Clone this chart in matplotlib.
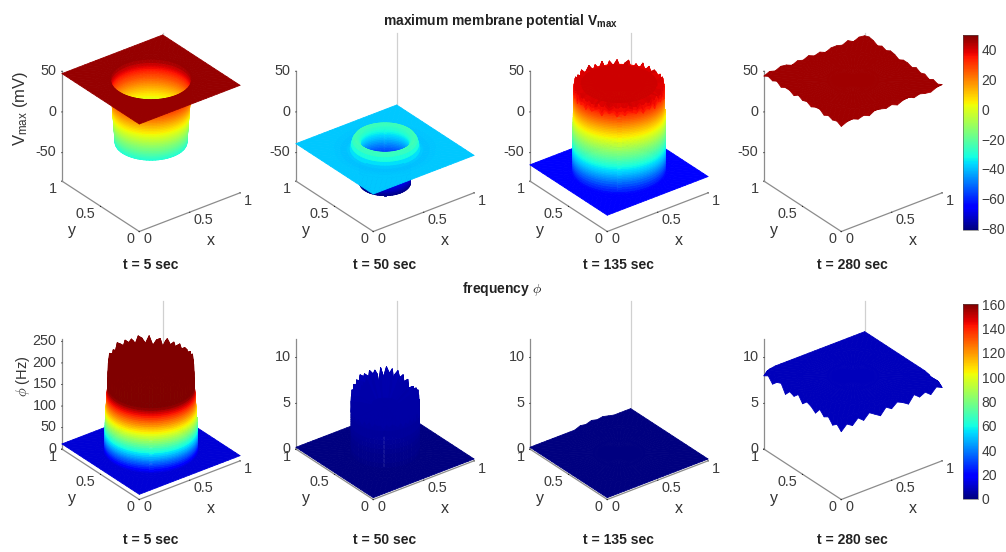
import numpy as np
import matplotlib
matplotlib.use("Agg")
from matplotlib import pyplot as plt
from matplotlib import cm
from matplotlib.colors import Normalize

plt.rcParams["font.family"] = ["Liberation Sans", "DejaVu Sans"]
plt.rcParams["mathtext.fontset"] = "custom"
plt.rcParams["mathtext.rm"] = "Liberation Sans"
plt.rcParams["mathtext.bf"] = "Liberation Sans:bold"
plt.rcParams["mathtext.it"] = "Liberation Sans:italic"

titles = ["t = 5 sec", "t = 50 sec", "t = 135 sec", "t = 280 sec"]
v_ticks = [-50, 0, 50]
phi_ticks_first = [0, 50, 100, 150, 200, 250]
phi_ticks = [0, 5, 10]
v_cbar_ticks = [-80, -60, -40, -20, 0, 20, 40]
phi_cbar_ticks = [0, 20, 40, 60, 80, 100, 120, 140, 160]

# rings, centre to outside: radius and height
v05_r = [0, .1, .2, .283, .284, .285, .286, .287, .288, .289, .290, .291, .292, .293, .294, .295, .296, .297,
         .298, .299, .300, .301, .302, .303, .304, .305, .306, .307, .308, .309, .310, .311, .312, .313,
         .314, .315, .316, .317, .318, .319, .32, .33, .36, .40, .44]
v05_z = [-30, -30, -30, -30, -28, -26, -24, -22, -20, -18, -16, -14, -12, -10, -8, -6, -4, -2,
         0, 2, 4, 6, 8, 10, 12, 14, 16, 18, 20, 22, 24, 26, 28, 30,
         32, 34, 36, 38, 40, 43, 47, 47, 47, 47, 47]
v50_r = [0, .1, .19, .2, .2, .2, .2, .2, .2, .2, .2, .2, .2, .2, .2, .2, .2, .2, .2, .2,
         .2, .2, .2, .2, .2, .2, .2, .2, .2, .2, .205, .21, .225, .24, .255, .265, .275, .30, .35, .40, .44]
v50_z = [-80, -80, -80, -80, -78, -76, -74, -72, -70, -68, -66, -64, -62, -60, -58, -56, -54, -52, -50, -48,
         -46, -44, -42, -40, -38, -36, -34, -32, -30, -29, -28, -27, -25, -25, -28, -33, -38, -40, -40, -39, -39]
v135_r = [0, .1, .2, .3, .35, .354, .354, .354, .354, .354, .355, .355, .355, .356, .356, .356, .357, .357, .357, .358, .358, .358, .359,
          .359, .359, .360, .360, .360, .361, .361, .361, .362, .362, .362, .363, .363, .363, .364, .364, .364,
          .365, .365, .365, .365, .366, .366, .366, .366, .366, .366, .366, .366, .366, .366, .366, .366, .366,
          .37, .40, .44]
v135_z = [41, 41, 41, 41, 46, 44, 42, 40, 38, 36, 34, 32, 30, 28, 26, 24, 22, 20, 18, 16, 14, 12, 10,
          8, 6, 4, 2, 0, -2, -4, -6, -8, -10, -12, -14, -16, -18, -20, -22, -24,
          -26, -28, -30, -32, -34, -36, -38, -40, -42, -44, -46, -48, -50, -53, -56, -59, -62,
          -65, -65, -65]
v280_r = [0, .2, .4, .44]
v280_z = [46, 46, 46, 46]

f05_r = [0, .1, .2, .3, .335, .336, .338, .340, .342, .343, .344, .345, .346, .347, .348, .349, .350, .351, .352, .353,
         .354, .355, .356, .357, .358, .358, .359, .359, .360, .360, .361, .361, .362, .362, .363, .363, .364, .364,
         .365, .365, .366, .366, .366, .366, .366, .37, .40, .44]
f05_z = [215, 215, 215, 215, 215, 205, 190, 170, 160, 154, 150, 146, 142, 138, 134, 130, 126, 122, 118, 114,
         110, 106, 102, 98, 94, 90, 86, 82, 78, 74, 70, 66, 62, 58, 54, 50, 46, 43,
         40, 37, 34, 30, 26, 22, 17, 12, 12, 12]
f50_r = [0, .1, .2, .265, .267, .267, .267, .267, .267, .267, .267, .267, .267, .267, .27, .32, .38, .44]
f50_z = [5.5, 5.5, 5.5, 5.5, 5, 4.5, 4, 3.5, 3, 2.5, 2, 1.5, 1, .5, .2, .2, .2, .2]
f135_r = [0, .2, .4, .44]
f135_z = [.2, .2, .2, .2]
f280_r = [0, .2, .4, .44]
f280_z = [8.6, 8.6, 8.6, 8.6]

# height wobble every 5 degrees, starting along +x
v135_rim = [-4, -12, -3, -15, -2, -10, -5, -16, -2, -6, -13, -2, -9, -3, -14, -2, -11, -4,
            -15, -2, -7, -12, -2, -14, -4, -9, -2, -12, -4, -11, -5, -10, -6, -12, -4, -9,
            -6, -11, -5, -10, -7, -5, -12, -4, -8, -5, -11, -6, -10, -5, -7, -9, -4, -11,
            -6, -9, -4, -12, -5, -7, -10, -3, -12, -5, -14, -4, -12, -2, -15, -3, -13, -5]
f05_rim = [4, -8, 6, -14, 5, -4, 9, -18, 7, 3, -10, 12, -5, 8, 14, -6, 10, 2,
           12, -7, 9, 15, -3, 6, -12, 4, 10, -9, 5, -3, 2, -6, 4, -2, 1, -3,
           2, 0, -4, 1, -2, 3, -3, 2, -1, 3, -4, 1, -2, 3, 0, -3, 2, -5,
           1, -2, 4, -3, 1, -5, 3, 0, -8, 5, -12, 3, -7, 8, -16, 6, -10, 3]
f50_rim = [.8, -.6, 1.4, -.4, 1.7, 1.0, 2.0, -.2, 2.1, 1.6, 2.3, 1.2, 2.2, -.3, 2.0, 1.4, 2.1, -.2,
           1.9, 1.2, 2.0, .9, 1.7, -.4, 1.5, .4, 1.2, -.5, .8, -.2, .4, -.3, .3, -.2, .2, -.3,
           .2, 0, -.3, .2, -.1, .3, -.2, .2, 0, .1, -.3, .2, -.1, .2, 0, -.2, .2, -.3,
           .1, -.2, .3, -.2, .1, -.4, .3, 0, -.5, .6, -.6, 1.0, -.5, 1.2, -.7, 1.1, -.6, 1.0]
v280_edge = [1, -2, 1, 2, -1, 1, -2, 1, 2, 0, 1, -2, 2, -1, 1, 1, -2, 1,
             -1, 2, -1, 1, -2, 1, 2, -1, 1, -2, 1, -1, 2, -2, 1, 1, -2, 2,
             -1, 1, -2, 1, 2, -2, 1, -1, 1, -2, 1, 2, -1, 1, -2, 2, 1, -1,
             1, -2, 1, 2, -1, 1, -1, -2, 1, 2, -1, 1, -2, 1, -1, 2, -1, 1]
f135_edge = [0, 0, 0, 0, 0, 0, 0, 0, 0, 0, 0, 0, 0, .15, .3, .2, .35, .15,
             .25, 0, 0, 0, 0, 0, 0, 0, 0, 0, 0, 0, 0, 0, 0, 0, 0, 0,
             0, 0, 0, 0, 0, 0, 0, 0, 0, 0, 0, 0, 0, 0, 0, 0, 0, 0,
             0, 0, 0, 0, 0, 0, 0, 0, 0, 0, 0, 0, 0, 0, 0, 0, 0, 0]
f280_edge = [0, 0, 0, 0, 0, 0, 0, 0, 0, 0, 0, 0, 0, 0, 0, 0, 0, 0,
             0, 0, 0, 0, 0, 0, 0, 0, -.1, -.6, -.3, -.9, -.4, -.2, -1.1, -.5, -.7, -.2,
             -.9, -.4, -.6, -1.0, -.3, -.8, -.5, -1.1, -.7, -1.2, -.6, -1.0, -.4, -.9, -.3, -.7, -1.1, -.4,
             -.8, -.3, -.6, -1.0, -.2, -.7, -.4, -.9, -.3, -.6, -.2, -.5, -.1, 0, 0, 0, 0, 0]
flat_edge = [0] * 72

panels = [
    (v05_r, v05_z, flat_edge, (0, 0), flat_edge), (v50_r, v50_z, flat_edge, (0, 0), flat_edge),
    (v135_r, v135_z, v135_rim, (4, 8), flat_edge), (v280_r, v280_z, flat_edge, (0, 0), v280_edge),
    (f05_r, f05_z, f05_rim, (3, 6), flat_edge), (f50_r, f50_z, f50_rim, (2, 5), flat_edge),
    (f135_r, f135_z, flat_edge, (0, 0), f135_edge), (f280_r, f280_z, flat_edge, (0, 0), f280_edge),
]

jet = plt.get_cmap("jet")
v_norm = Normalize(-81, 50)
f_norm = Normalize(0, 160)
W, H = 1006, 552
AX = 213.5  # pixels, gives the 127 px cube edge


def mesh(ring_r, ring_z, rim, rough, edge):
    deg = np.arange(0, 365, 5)
    th = np.deg2rad(deg)
    c, s = np.cos(th), np.sin(th)
    x = 0.5 + np.outer(ring_r, c)
    y = 0.5 + np.outer(ring_r, s)
    # square outline, vertices evenly spaced along its sides
    k = np.floor((deg + 45) / 90)
    a = (((deg + 45) % 90) - 45) / 45
    nx, ny = np.round(np.cos(k * np.pi / 2)), np.round(np.sin(k * np.pi / 2))
    bx = 0.5 * nx - 0.5 * a * ny
    by = 0.5 * ny + 0.5 * a * nx
    x = np.vstack([x, 0.5 + 0.96 * bx, 0.5 + bx])
    y = np.vstack([y, 0.5 + 0.96 * by, 0.5 + by])
    z = np.vstack([np.outer(ring_z, np.ones(73)), np.full(73, ring_z[-1]), ring_z[-1] + np.array(edge + edge[:1])])
    z[rough[0]:rough[1]] += np.array(rim + rim[:1])
    return x, y, z


def make_axes(cx, cy, zlim, zticks, norm, ring, title, title_y):
    # cx, cy: cube centre in pixels from the top left
    left = cx - 0.5135 * AX
    bottom = H - cy - 0.5135 * AX
    ax = fig.add_axes([left / W, bottom / H, AX / W, AX / H], projection="3d", proj_type="ortho")
    ax.computed_zorder = False
    ax.patch.set_alpha(0)
    ax.view_init(elev=30, azim=-127.5)
    ax.set_box_aspect((1, 1, 1))
    # box edge at the back corner, only seen above the surface
    ax.plot([1, 1], [1, 1], [ring[1][-1], zlim[1]], color="#d0d0d0", lw=0.9, zorder=0)
    x, y, z = mesh(*ring)
    surf = ax.plot_surface(x, y, z, cmap=jet, norm=norm, rstride=1, cstride=1, linewidth=0.6,
                           antialiased=True, shade=False, zorder=2)
    surf.set_edgecolor("face")
    ax.set_xlim(0, 1)
    ax.set_ylim(0, 1)
    ax.set_zlim(*zlim)
    ax.grid(False)
    for a in (ax.xaxis, ax.yaxis, ax.zaxis):
        a.pane.set_alpha(0)
        a.pane.set_edgecolor("none")
        a.line.set_color("#8c8c8c")
        a.line.set_linewidth(0.9)
        a._axinfo["tick"]["inward_factor"] = 0.03
        a._axinfo["tick"]["outward_factor"] = 0
        a._axinfo["tick"]["linewidth"] = {True: 0.6, False: 0.4}
        a._axinfo["tick"]["color"] = "#8c8c8c"
    ax.zaxis.set_ticks_position("upper")
    ax.set_xticks([0, .5, 1], ["0", "0.5", "1"], fontsize=10.4, color="#3c3c3c", ha="left", va="center")
    ax.set_yticks([0, .5, 1], ["0", "0.5", "1"], fontsize=10.4, color="#3c3c3c", ha="right", va="center")
    ax.set_zticks(zticks, [str(t) for t in zticks], fontsize=10.4, color="#3c3c3c", ha="right", va="center")
    ax.tick_params(axis="x", pad=-4)
    ax.tick_params(axis="y", pad=-4)
    ax.tick_params(axis="z", pad=-5.5)
    fig.text((cx + 60) / W, 1 - (cy + 108.5) / H, "x", fontsize=11.5, ha="center", va="center", color="#333333")
    fig.text((cx - 79) / W, 1 - (cy + 98.5) / H, "y", fontsize=11.5, ha="center", va="center", color="#333333")
    fig.text((cx - 0.5) / W, 1 - title_y / H, title, fontsize=10, fontweight="bold", ha="center", va="center", color="#222222")
    return ax


fig = plt.figure(figsize=(10.06, 5.52), dpi=100)

centres = [151, 385, 619, 853]
for i in range(4):
    make_axes(centres[i], 132, (-85, 50), v_ticks, v_norm, panels[i], titles[i], 265)
    if i == 0:
        make_axes(centres[i], 400, (0, 255), phi_ticks_first, f_norm, panels[4 + i], titles[i], 540)
    else:
        make_axes(centres[i], 400, (0, 12), phi_ticks, f_norm, panels[4 + i], titles[i], 540)

fig.text(20 / W, 1 - 108 / H, r"V$_{\mathrm{max}}$ (mV)", fontsize=12, rotation=90, ha="center", va="center", color="#333333")
fig.text(23 / W, 1 - 376 / H, r"$\phi$ (Hz)", fontsize=10.5, rotation=90, ha="center", va="center", color="#333333",
         math_fontfamily="cm")
fig.text(501 / W, 1 - 21 / H, r"maximum membrane potential V$_{\mathbf{max}}$", fontsize=10, fontweight="bold",
         ha="center", va="center", color="#222222")
fig.text(502 / W, 1 - 289 / H, r"frequency $\phi$", fontsize=10, fontweight="bold", ha="center", va="center",
         color="#222222", math_fontfamily="cm")

for top, bot, norm, ticks in [(35, 230, v_norm, v_cbar_ticks), (304, 499, f_norm, phi_cbar_ticks)]:
    cax = fig.add_axes([963 / W, 1 - bot / H, 14.5 / W, (bot - top) / H])
    cb = fig.colorbar(cm.ScalarMappable(norm=norm, cmap=jet), cax=cax, ticks=ticks)
    cb.ax.tick_params(length=0, labelsize=10, pad=3, labelcolor="#3c3c3c")
    cb.outline.set_linewidth(0.4)
    cb.outline.set_edgecolor("#555555")

fig.savefig("out.png", dpi=100)
